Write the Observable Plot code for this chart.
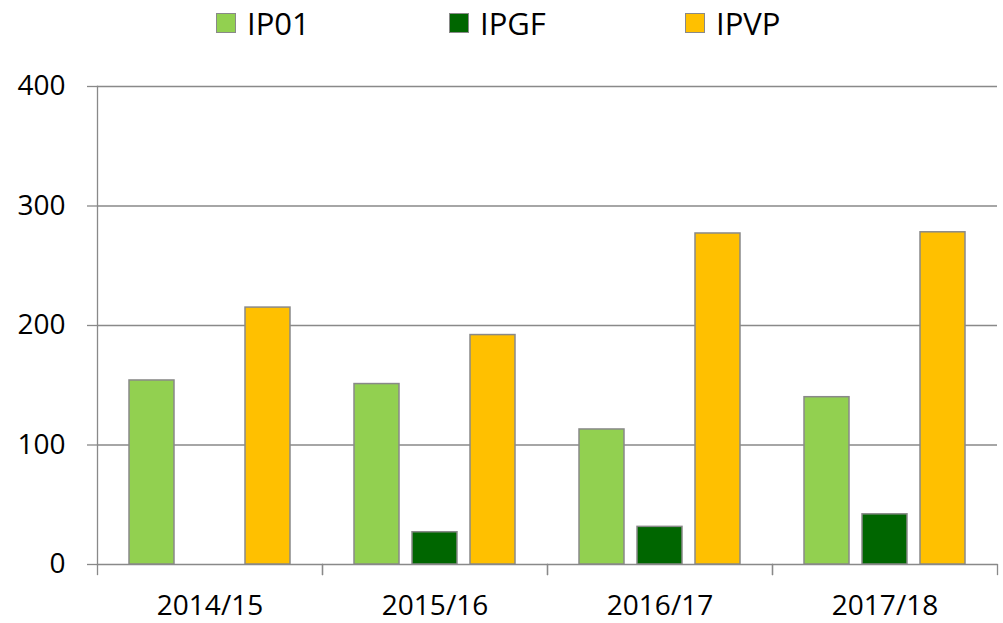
<!DOCTYPE html>
<html>
<head>
<meta charset="utf-8">
<script src="https://cdn.jsdelivr.net/npm/d3@7"></script>
<script src="https://cdn.jsdelivr.net/npm/@observablehq/plot@0.6"></script>
<style>
  html, body { margin: 0; padding: 0; background: #fff; }
  #legend { height: 46px; position: relative; font-family: "Open Sans", sans-serif; font-size: 31px; color: #000; }
  .item { position: absolute; top: 0; height: 46px; display: flex; align-items: center; }
  .sw { width: 18px; height: 18px; border: 1.5px solid #898989; margin-right: 11px; margin-top: 0px; }
  .lbl { line-height: 46px; margin-top: 0px; }
</style>
</head>
<body>
<div id="legend"></div>
<div id="chart"></div>
<script>
const years = ["2014/15", "2015/16", "2016/17", "2017/18"];
const series = ["IP01", "IPGF", "IPVP"];
const colors = ["#92D050", "#006600", "#FFC000"];
const ip01 = [154, 151, 113, 140];
const ipgf = [null, 27, 31.5, 42];
const ipvp = [215, 192, 277, 278];
const yTicks = [0, 100, 200, 300, 400];

const values = [ip01, ipgf, ipvp];
const table = [];
years.forEach((yr, i) => {
  series.forEach((s, j) => {
    const v = values[j][i];
    if (v != null) table.push({year: yr, series: s, value: v});
  });
});

// Legend
const legendLeft = [216, 449, 685];
const legend = document.getElementById("legend");
series.forEach((s, j) => {
  const it = document.createElement("div");
  it.className = "item";
  it.style.left = legendLeft[j] + "px";
  const sw = document.createElement("div");
  sw.className = "sw";
  sw.style.background = colors[j];
  const lb = document.createElement("span");
  lb.className = "lbl";
  lb.textContent = s;
  it.appendChild(sw);
  it.appendChild(lb);
  legend.appendChild(it);
});

const gray = "#898989";
const H = 577, mT = 40, mB = 59;
const innerH = H - mT - mB;

const chart = Plot.plot({
  width: 1003,
  height: H,
  marginLeft: 95,
  marginRight: 5,
  marginTop: mT,
  marginBottom: mB,
  style: {fontFamily: "Open Sans, sans-serif", fontSize: "28px", color: "#000", background: "#fff"},
  fx: {domain: years, padding: 0, label: null},
  x: {domain: series, paddingInner: 0.226, paddingOuter: 0.55, axis: null},
  y: {domain: [0, 400], label: null},
  color: {domain: series, range: colors},
  marks: [
    Plot.gridY(yTicks, {stroke: gray, strokeOpacity: 1, strokeWidth: 1.3}),
    Plot.axisY(yTicks, {tickSize: 10, tickPadding: 22, stroke: gray, strokeOpacity: 1, strokeWidth: 1.3, fontSize: 28, label: null}),
    Plot.frame({anchor: "left", facet: "super", stroke: gray, strokeWidth: 1.3}),
    Plot.frame({anchor: "left", insetTop: innerH, insetBottom: -10, stroke: gray, strokeWidth: 1.3}),
    Plot.frame({anchor: "right", insetTop: innerH, insetBottom: -10, stroke: gray, strokeWidth: 1.3}),
    Plot.barY(table, {fx: "year", x: "series", y: "value", fill: "series", stroke: gray, strokeWidth: 1.5}),
    Plot.axisFx({anchor: "bottom", tickSize: 0, tickPadding: 31, fontSize: 28, label: null})
  ]
});
document.getElementById("chart").appendChild(chart);
</script>
</body>
</html>
